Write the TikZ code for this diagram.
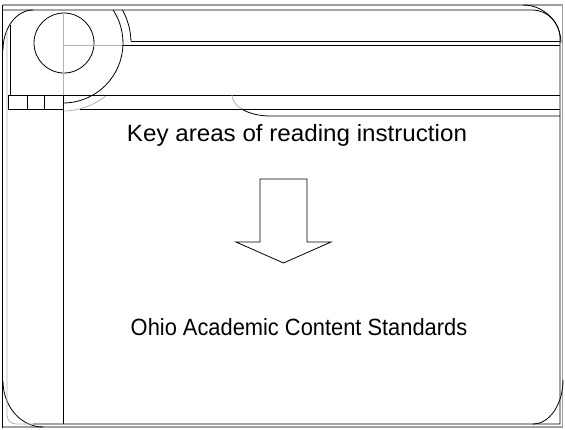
\documentclass[tikz,border=0pt]{standalone}
\usepackage{fontspec}
\setmainfont{Liberation Sans}
\begin{document}
\begin{tikzpicture}[x=1pt,y=-1pt,
  ln/.style={black,line width=0.8pt},
  gl/.style={gray!60,line width=0.8pt},
  frm/.style={gray!75,line width=1.8pt},
  lbl/.style={font=\fontsize{23.5}{27}\selectfont,inner sep=0pt,anchor=base}]
\useasboundingbox (0,0) rectangle (565,429);
% outer frame
\draw[frm] (2.5,5) -- (562.5,5) -- (562.5,427) -- (2.5,427);
\draw[black,line width=1.2pt] (2.5,4.5) -- (2.5,427.5);
% big rounded corners
\draw[ln] (523,5) arc[start angle=-90,end angle=0,radius=38];
\draw[ln] (563,380) arc[start angle=0,end angle=90,x radius=30,y radius=44];
\draw[ln] (3,381) arc[start angle=180,end angle=90,x radius=40,y radius=46];
\draw[ln] (33,10) arc[start angle=270,end angle=180,x radius=30,y radius=40];
% inner frame
\draw[ln] (3,10) -- (532,10) arc[start angle=-90,end angle=0,radius=28] -- (560,424) -- (33,424);
\draw[gl] (7,30) -- (7,415) arc[start angle=180,end angle=90,radius=9] -- (33,424);
\draw[ln] (10,25) -- (10,95);
% circle and crosshair
\draw[ln] (64,43) circle[radius=30];
\draw[gl] (63,13) -- (63,95);
\draw[gl] (63,45) -- (123,45);
% arcs around the circle
\draw[ln] (63,43) ++(-33.4:60) arc[start angle=-33.4,end angle=90,radius=60];
\draw[ln] (63,43) ++(-29:68) arc[start angle=-29,end angle=-1.7,radius=68];
\draw[gl] (63,43) ++(50:68) arc[start angle=50,end angle=90,radius=68];
% top double lines
\draw[ln] (131,41) -- (560,41);
\draw[ln] (123,45) -- (560,45);
% box strip
\draw[ln] (8,95) rectangle (63,109);
\draw[ln] (27,95) -- (27,109);
\draw[ln] (44,95) -- (44,109);
% horizontal band
\draw[ln] (8,95) -- (560,95);
\draw[ln] (80,109) -- (560,109);
\draw[gl] (232,95) arc[start angle=180,end angle=138.2,x radius=38,y radius=21];
\draw[ln] (241.7,109) arc[start angle=138.2,end angle=90,x radius=38,y radius=21] -- (560,116);
% long vertical
\draw[ln] (63,95) -- (63,424);
% texts
\node[lbl] (t1) at (297,141) {\scalebox{1.029}[1]{Key areas of reading instruction}};
\node[lbl] (t2) at (299,335) {\scalebox{0.93}[1]{Ohio Academic Content Standards}};
% block arrow
\draw[ln,fill=white] (260,179) -- (307,179) -- (307,242) -- (331,242) -- (283.5,263) -- (236,242) -- (260,242) -- cycle;
\end{tikzpicture}
\end{document}
